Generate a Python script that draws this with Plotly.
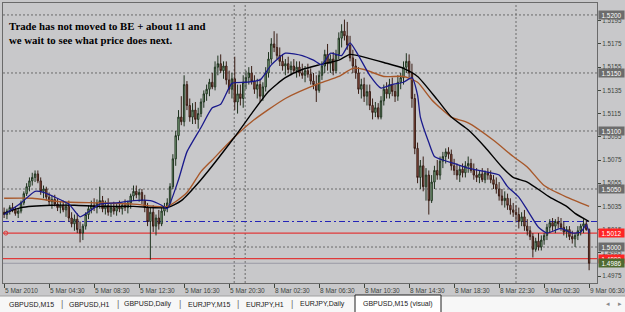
import plotly.graph_objects as go

# ---------------- data ----------------
opens = [1.5030,1.5028,1.5031,1.5034,1.5032,1.5029,1.5031,1.5038,1.5046,1.5052,
1.5057,1.5060,1.5063,1.5057,1.5048,1.5050,1.5043,1.5039,1.5041,1.5037,
1.5034,1.5036,1.5032,1.5035,1.5025,1.5020,1.5024,1.5015,1.5012,1.5018,
1.5028,1.5033,1.5036,1.5034,1.5038,1.5040,1.5033,1.5036,1.5030,1.5034,
1.5031,1.5035,1.5033,1.5036,1.5034,1.5038,1.5044,1.5048,1.5045,1.5047,
1.5040,1.5034,1.5022,1.5030,1.5018,1.5025,1.5020,1.5031,1.5035,1.5038,
1.5052,1.5076,1.5096,1.5112,1.5108,1.5140,1.5122,1.5112,1.5118,1.5110,
1.5115,1.5125,1.5132,1.5136,1.5142,1.5138,1.5155,1.5158,1.5152,1.5156,
1.5144,1.5136,1.5145,1.5125,1.5132,1.5128,1.5142,1.5146,1.5150,1.5143,
1.5136,1.5140,1.5130,1.5138,1.5150,1.5162,1.5175,1.5172,1.5165,1.5160,
1.5156,1.5158,1.5153,1.5156,1.5152,1.5155,1.5150,1.5148,1.5152,1.5149,
1.5143,1.5140,1.5135,1.5148,1.5156,1.5166,1.5158,1.5162,1.5152,1.5166,
1.5180,1.5186,1.5182,1.5174,1.5163,1.5156,1.5150,1.5136,1.5140,1.5130,
1.5134,1.5122,1.5116,1.5120,1.5112,1.5126,1.5136,1.5132,1.5140,1.5134,
1.5130,1.5142,1.5146,1.5155,1.5160,1.5150,1.5128,1.5085,1.5060,1.5070,
1.5052,1.5062,1.5040,1.5056,1.5066,1.5062,1.5074,1.5078,1.5082,1.5080,
1.5070,1.5066,1.5062,1.5067,1.5064,1.5070,1.5072,1.5066,1.5062,1.5060,
1.5063,1.5058,1.5064,1.5062,1.5058,1.5054,1.5050,1.5044,1.5040,1.5042,
1.5036,1.5032,1.5030,1.5028,1.5022,1.5026,1.5018,1.5014,1.5009,1.4998,
1.5005,1.5000,1.5006,1.5010,1.5017,1.5021,1.5018,1.5022,1.5020,1.5017,
1.5013,1.5015,1.5009,1.5007,1.5010,1.5014,1.5018,1.5020,1.5015]

highs = [1.5034,1.5033,1.5036,1.5038,1.5035,1.5033,1.5040,1.5048,1.5055,1.5060,
1.5064,1.5066,1.5066,1.5060,1.5053,1.5052,1.5047,1.5044,1.5045,1.5042,
1.5039,1.5040,1.5038,1.5040,1.5030,1.5028,1.5029,1.5022,1.5020,1.5030,
1.5036,1.5040,1.5042,1.5041,1.5052,1.5044,1.5040,1.5042,1.5038,1.5039,
1.5037,1.5040,1.5038,1.5041,1.5040,1.5046,1.5053,1.5053,1.5050,1.5050,
1.5045,1.5038,1.5034,1.5036,1.5028,1.5032,1.5034,1.5038,1.5042,1.5055,
1.5080,1.5100,1.5118,1.5130,1.5148,1.5143,1.5128,1.5124,1.5125,1.5120,
1.5128,1.5135,1.5140,1.5145,1.5150,1.5160,1.5165,1.5166,1.5160,1.5160,
1.5152,1.5150,1.5164,1.5140,1.5140,1.5148,1.5152,1.5155,1.5156,1.5148,
1.5145,1.5145,1.5142,1.5155,1.5168,1.5180,1.5186,1.5184,1.5172,1.5166,
1.5162,1.5164,1.5160,1.5162,1.5160,1.5160,1.5158,1.5156,1.5158,1.5154,
1.5150,1.5148,1.5152,1.5160,1.5170,1.5175,1.5166,1.5168,1.5170,1.5185,
1.5192,1.5196,1.5194,1.5182,1.5170,1.5162,1.5155,1.5145,1.5146,1.5140,
1.5140,1.5128,1.5125,1.5124,1.5130,1.5140,1.5142,1.5145,1.5146,1.5140,
1.5148,1.5150,1.5160,1.5167,1.5166,1.5158,1.5132,1.5090,1.5075,1.5078,
1.5068,1.5066,1.5062,1.5070,1.5075,1.5078,1.5082,1.5085,1.5086,1.5084,
1.5076,1.5072,1.5070,1.5072,1.5074,1.5078,1.5076,1.5072,1.5068,1.5066,
1.5068,1.5066,1.5068,1.5066,1.5062,1.5060,1.5056,1.5050,1.5048,1.5046,
1.5042,1.5038,1.5036,1.5034,1.5030,1.5032,1.5024,1.5018,1.5012,1.5008,
1.5012,1.5010,1.5012,1.5020,1.5024,1.5025,1.5024,1.5026,1.5025,1.5022,
1.5018,1.5018,1.5014,1.5012,1.5018,1.5020,1.5024,1.5023,1.5016]

lows = [1.5025,1.5024,1.5028,1.5030,1.5027,1.5025,1.5029,1.5036,1.5044,1.5048,
1.5053,1.5056,1.5055,1.5045,1.5042,1.5040,1.5036,1.5033,1.5035,1.5031,
1.5029,1.5030,1.5026,1.5022,1.5017,1.5014,1.5012,1.5004,1.5006,1.5015,
1.5024,1.5029,1.5031,1.5029,1.5033,1.5030,1.5028,1.5027,1.5026,1.5028,
1.5027,1.5030,1.5028,1.5031,1.5029,1.5033,1.5040,1.5042,1.5039,1.5037,
1.5030,1.5018,1.4989,1.5013,1.5010,1.5015,1.5018,1.5027,1.5030,1.5036,
1.5050,1.5070,1.5092,1.5105,1.5104,1.5118,1.5108,1.5106,1.5106,1.5102,
1.5112,1.5120,1.5126,1.5130,1.5136,1.5135,1.5148,1.5150,1.5145,1.5140,
1.5132,1.5128,1.5118,1.5115,1.5122,1.5120,1.5136,1.5140,1.5140,1.5132,
1.5128,1.5125,1.5126,1.5134,1.5146,1.5158,1.5168,1.5162,1.5156,1.5152,
1.5148,1.5150,1.5148,1.5150,1.5146,1.5147,1.5145,1.5142,1.5146,1.5140,
1.5136,1.5125,1.5133,1.5144,1.5150,1.5152,1.5150,1.5148,1.5150,1.5162,
1.5172,1.5178,1.5170,1.5160,1.5150,1.5145,1.5132,1.5128,1.5125,1.5122,
1.5118,1.5110,1.5112,1.5110,1.5110,1.5122,1.5128,1.5128,1.5130,1.5125,
1.5126,1.5136,1.5140,1.5150,1.5146,1.5120,1.5080,1.5055,1.5050,1.5048,
1.5040,1.5028,1.5038,1.5050,1.5058,1.5058,1.5068,1.5072,1.5076,1.5066,
1.5062,1.5058,1.5056,1.5060,1.5060,1.5064,1.5064,1.5058,1.5056,1.5055,
1.5056,1.5055,1.5058,1.5055,1.5050,1.5046,1.5040,1.5036,1.5034,1.5032,
1.5028,1.5026,1.5022,1.5016,1.5018,1.5014,1.5010,1.5006,1.4991,1.4996,
1.4997,1.4997,1.5002,1.5006,1.5012,1.5014,1.5012,1.5016,1.5014,1.5010,
1.5008,1.5006,1.5003,1.5000,1.5006,1.5010,1.5012,1.5014,1.4980]

closes = [1.5028,1.5031,1.5034,1.5032,1.5029,1.5031,1.5038,1.5046,1.5052,1.5057,
1.5060,1.5063,1.5057,1.5048,1.5050,1.5043,1.5039,1.5041,1.5037,1.5034,
1.5036,1.5032,1.5035,1.5025,1.5020,1.5024,1.5015,1.5012,1.5018,1.5028,
1.5033,1.5036,1.5034,1.5038,1.5040,1.5033,1.5036,1.5030,1.5034,1.5031,
1.5035,1.5033,1.5036,1.5034,1.5038,1.5044,1.5048,1.5045,1.5047,1.5040,
1.5034,1.5022,1.5030,1.5018,1.5025,1.5020,1.5031,1.5035,1.5038,1.5052,
1.5076,1.5096,1.5112,1.5108,1.5140,1.5122,1.5112,1.5118,1.5110,1.5115,
1.5125,1.5132,1.5136,1.5142,1.5138,1.5155,1.5158,1.5152,1.5156,1.5144,
1.5136,1.5145,1.5125,1.5132,1.5128,1.5142,1.5146,1.5150,1.5143,1.5136,
1.5140,1.5130,1.5138,1.5150,1.5162,1.5175,1.5172,1.5165,1.5160,1.5156,
1.5158,1.5153,1.5156,1.5152,1.5155,1.5150,1.5148,1.5152,1.5149,1.5143,
1.5140,1.5135,1.5148,1.5156,1.5166,1.5158,1.5162,1.5152,1.5166,1.5180,
1.5186,1.5182,1.5174,1.5163,1.5156,1.5150,1.5136,1.5140,1.5130,1.5134,
1.5122,1.5116,1.5120,1.5112,1.5126,1.5136,1.5132,1.5140,1.5134,1.5130,
1.5142,1.5146,1.5155,1.5160,1.5150,1.5128,1.5085,1.5060,1.5070,1.5052,
1.5062,1.5040,1.5056,1.5066,1.5062,1.5074,1.5078,1.5082,1.5080,1.5070,
1.5066,1.5062,1.5067,1.5064,1.5070,1.5072,1.5066,1.5062,1.5060,1.5063,
1.5058,1.5064,1.5062,1.5058,1.5054,1.5050,1.5044,1.5040,1.5042,1.5036,
1.5032,1.5030,1.5028,1.5022,1.5026,1.5018,1.5014,1.5009,1.4998,1.5005,
1.5000,1.5006,1.5010,1.5017,1.5021,1.5018,1.5022,1.5020,1.5017,1.5013,
1.5015,1.5009,1.5007,1.5010,1.5014,1.5018,1.5020,1.5015,1.4986]

bars = list(range(len(closes)))

# moving averages (bar index, price)
ma_fast_x = [0,6,11,14,23,27,31,34,40,46,52,56,58,62,65,70,74,77,81,86,91,95,100,106,110,113,116,120,123,126,130,134,138,142,145,147,148,151,153,156,160,165,171,176,179,183,186,190,193,198,202,205,207,208]
ma_fast_y = [1.5028,1.5038,1.5048,1.5047,1.5037,1.5026,1.5032,1.5037,1.5038,1.5040,1.5040,1.5036,1.5033,1.5058,1.5082,1.5103,1.5120,1.5123,1.5141,1.5142,1.5144,1.5157,1.5167,1.5165,1.5161,1.5157,1.5167,1.5165,1.5176,1.5165,1.5148,1.5137,1.5140,1.5142,1.5146,1.5131,1.5112,1.5090,1.5078,1.5075,1.5072,1.5068,1.5065,1.5062,1.5052,1.5043,1.5032,1.5017,1.5012,1.5016,1.5012,1.5013,1.5019,1.5012]

ma_mid_x = [0,6,17,25,34,46,58,63,70,82,88,94,100,106,112,119,123,129,135,142,147,154,159,165,171,177,181,186,194,200,203,208]
ma_mid_y = [1.5029,1.5034,1.5036,1.5036,1.5035,1.5035,1.5034,1.5040,1.5058,1.5095,1.5115,1.5134,1.5146,1.5153,1.5157,1.5161,1.5166,1.5163,1.5159,1.5154,1.5147,1.5127,1.5112,1.5101,1.5086,1.5069,1.5060,1.5056,1.5043,1.5035,1.5029,1.5022]

ma_slow_x = [0,10,20,34,46,58,65,70,74,82,88,100,112,119,124,128,135,142,147,152,159,165,174,181,186,192,200,208]
ma_slow_y = [1.5042,1.5042,1.5039,1.5038,1.5037,1.5035,1.5047,1.5065,1.5075,1.5095,1.5108,1.5128,1.5141,1.5147,1.5154,1.5153,1.5147,1.5147,1.5142,1.5127,1.5112,1.5107,1.5092,1.5078,1.5069,1.5053,1.5043,1.5035]

time_labels = ["5 Mar 2010","5 Mar 04:30","5 Mar 08:30","5 Mar 12:30","5 Mar 16:30",
               "5 Mar 20:30","8 Mar 02:30","8 Mar 06:30","8 Mar 10:30","8 Mar 14:30",
               "8 Mar 18:30","8 Mar 22:30","9 Mar 02:30","9 Mar 06:30"]
time_label_bars = [0,16,32,48,64,80,96,112,128,144,160,176,192,208]

price_ticks = [1.4975,1.4995,1.5015,1.5035,1.5055,1.5075,1.5095,1.5115,1.5135,1.5155,1.5175,1.5195]
round_levels = [1.5200,1.5150,1.5100,1.5050,1.5000]
be_level = 1.5022
order_levels = [1.5012,1.4990]
bid_price = 1.4986
vline_bars = [81.8,85.7,182.0]

tabs = ["GBPUSD,M15","GBPUSD,H1","GBPUSD,Daily","EURJPY,M15","EURJPY,H1","EURJPY,Daily","GBPUSD,M15 (visual)"]
note_text = "Trade has not moved to BE + about 11 and<br>we wait to see what price does next."

# ---------------- figure ----------------
BG = "#C8C8CA"
AX = "#3E463E"
FONT = "Liberation Sans"

fig = go.Figure()

fig.add_trace(go.Candlestick(
    x=bars, open=opens, high=highs, low=lows, close=closes,
    increasing=dict(line=dict(color="#1F331F", width=1), fillcolor="#9CC89C"),
    decreasing=dict(line=dict(color="#3A1E16", width=1), fillcolor="#A0584A"),
    whiskerwidth=0, hoverinfo="skip"))

fig.add_trace(go.Scatter(x=ma_slow_x, y=ma_slow_y, mode="lines",
                         line=dict(color="#A8582A", width=1.4, shape="spline", smoothing=0.6), hoverinfo="skip"))
fig.add_trace(go.Scatter(x=ma_mid_x, y=ma_mid_y, mode="lines",
                         line=dict(color="#000000", width=1.4, shape="spline", smoothing=0.6), hoverinfo="skip"))
fig.add_trace(go.Scatter(x=ma_fast_x, y=ma_fast_y, mode="lines",
                         line=dict(color="#1A1A8C", width=1.3, shape="spline", smoothing=0.5), hoverinfo="skip"))

# small order marker at the left end of the order line
fig.add_trace(go.Scatter(x=[bars[0] + 0.6], y=[order_levels[0]], mode="markers",
                         marker=dict(symbol="circle-open", size=4, color="#E03A3A", line=dict(width=1)),
                         hoverinfo="skip", cliponaxis=False))

shapes = []
for lv in round_levels:
    shapes.append(dict(type="line", xref="paper", x0=0, x1=1, yref="y", y0=lv, y1=lv,
                       line=dict(color="#6A6A6A", width=1, dash="2px,2px"), layer="below"))
for vb in vline_bars:
    shapes.append(dict(type="line", xref="x", x0=vb, x1=vb, yref="paper", y0=0, y1=1,
                       line=dict(color="#6A6A6A", width=1, dash="2px,2px"), layer="below"))
shapes.append(dict(type="line", xref="paper", x0=0, x1=1, yref="y", y0=be_level, y1=be_level,
                   line=dict(color="#2424B8", width=1.1, dash="6px,3px,2px,3px"), layer="below"))
for lv in order_levels:
    shapes.append(dict(type="line", xref="paper", x0=0, x1=1, yref="y", y0=lv, y1=lv,
                       line=dict(color="#E03A3A", width=1.2), layer="below"))
shapes.append(dict(type="line", xref="paper", x0=0, x1=1, yref="y", y0=bid_price, y1=bid_price,
                   line=dict(color="#9A9AA4", width=1), layer="below"))

# tab strip (paper coords; plot area is 594 x 280 px starting at (3, 3))
def px_x(X):
    return (X - 3) / 594.0
def px_y(Y):
    return (283 - Y) / 280.0

shapes.append(dict(type="rect", xref="paper", yref="paper", x0=px_x(-2), x1=px_x(627),
                   y0=px_y(296), y1=px_y(314), fillcolor="#F7F7F7", line=dict(color="#A0A0A0", width=1)))
shapes.append(dict(type="rect", xref="paper", yref="paper", x0=px_x(355), x1=px_x(441),
                   y0=px_y(295), y1=px_y(314), fillcolor="#FFFFFF", line=dict(color="#202020", width=1)))

annotations = []
# note text
annotations.append(dict(x=px_x(7), y=px_y(18), xref="paper", yref="paper", xanchor="left", yanchor="top",
                        align="left", showarrow=False, text=note_text,
                        font=dict(family="Liberation Serif", size=10.8, color="#000000", weight="bold")))
# time labels
for b, t in zip(time_label_bars, time_labels):
    annotations.append(dict(x=b, xref="x", y=0, yref="paper", yanchor="top", xanchor="left",
                            xshift=-1, yshift=-2, showarrow=False, text=t,
                            font=dict(family=FONT, size=6.5, color=AX)))
# price boxes
def price_box(p, bg):
    return dict(x=1, xref="paper", y=p, yref="y", xanchor="left", yanchor="middle", xshift=1,
                showarrow=False, text=f"{p:.4f}", bgcolor=bg, width=25, height=8, borderpad=0,
                font=dict(family=FONT, size=6.4, color="#FFFFFF"))
for lv in round_levels:
    annotations.append(price_box(lv, "#6C6C6C"))
annotations.append(price_box(order_levels[0], "#FF2424"))
annotations.append(price_box(order_levels[1], "#FF2424"))
annotations.append(price_box(bid_price, "#4F6A30"))

# tabs
tab_centers = [31, 89, 148, 209, 265, 322, 398]
for c, t in zip(tab_centers, tabs):
    annotations.append(dict(x=px_x(c), y=px_y(304), xref="paper", yref="paper", xanchor="center",
                            yanchor="middle", showarrow=False, text=t,
                            font=dict(family=FONT, size=7, color="#1A1A1A")))
for s in [62, 118, 180, 238, 292]:
    annotations.append(dict(x=px_x(s), y=px_y(304), xref="paper", yref="paper", xanchor="center",
                            yanchor="middle", showarrow=False, text="|",
                            font=dict(family=FONT, size=9, color="#707070")))
for s, t in [(608, "◂"), (620, "▸")]:
    annotations.append(dict(x=px_x(s), y=px_y(304), xref="paper", yref="paper", xanchor="center",
                            yanchor="middle", showarrow=False, text=t,
                            font=dict(family="DejaVu Sans", size=7, color="#8A8A8A")))

fig.update_layout(
    width=625, height=312,
    margin=dict(l=3, r=28, t=3, b=29),
    paper_bgcolor=BG, plot_bgcolor=BG,
    showlegend=False, hovermode=False,
    shapes=shapes, annotations=annotations,
    xaxis=dict(range=[-0.4, 210.8], showgrid=False, zeroline=False,
               tickvals=time_label_bars, showticklabels=False, ticks="outside", ticklen=4,
               tickcolor=AX, showline=True, linecolor="#6A6A6A", mirror=True,
               rangeslider=dict(visible=False), fixedrange=True),
    yaxis=dict(range=[1.49690, 1.52103], side="right", showgrid=False, zeroline=False,
               tickvals=price_ticks, ticktext=[f"{p:.4f}" for p in price_ticks],
               ticks="outside", ticklen=3, tickcolor=AX,
               tickfont=dict(family=FONT, size=6.3, color=AX),
               showline=True, linecolor="#6A6A6A", mirror=True, fixedrange=True),
)

fig.write_html("out.html")
